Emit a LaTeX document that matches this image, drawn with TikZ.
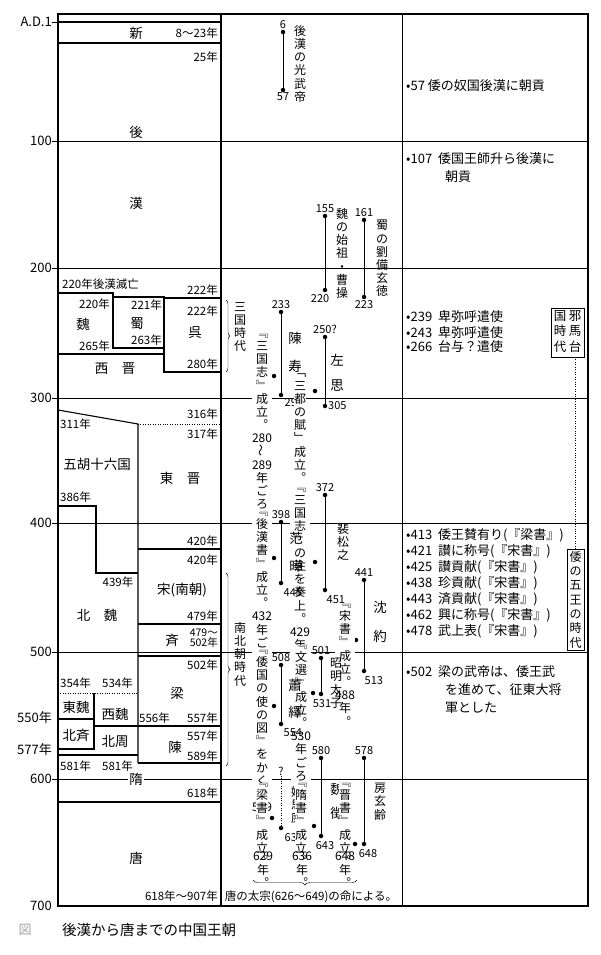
\documentclass[tikz,border=0pt]{standalone}
\usepackage{fontspec}
\setmainfont{Noto Sans CJK JP}
\usetikzlibrary{decorations.pathreplacing,positioning}
\def\V#1{#1\Vx}
\def\Vx#1{\ifx\relax#1\else\\#1\expandafter\Vx\fi}
\newcommand{\wv}{\rotatebox{90}{～}}
\begin{document}
\begin{tikzpicture}[x=1pt,y=-1pt,
  every node/.append style={execute at begin node={\lineskiplimit=-100pt\lineskip=0pt}},
  frame/.style={line width=1.1pt},
  thin/.style={line width=0.45pt},
  dyn/.style={font=\fontsize{13.5}{14}\selectfont,inner sep=0pt},
  yr/.style={font=\fontsize{11.5}{11}\selectfont,inner sep=0pt},
  ax/.style={font=\fontsize{13}{12}\selectfont,anchor=east,inner sep=0pt},
  vt/.style={anchor=north,align=center,inner sep=0pt,font=\fontsize{12}{13.2}\selectfont},
  num/.style={font=\fontsize{11}{11}\selectfont,inner sep=0.5pt},
  ev/.style={anchor=west,inner sep=0pt,font=\fontsize{13}{13}\selectfont},
  life/.style={line width=0.8pt},
  dotm/.style={circle,fill,inner sep=0pt,minimum size=4.5pt}]
\useasboundingbox (0,0) rectangle (600,955);
% century lines
\foreach \y in {141,268,398,523,652,779}{\draw[thin] (52,\y) -- (588,\y);}
% axis labels
\node[ax] (a1) at (52,22) {A.D.1};
\node[ax] (a100) at (52,141) {100};
\node[ax] (a200) at (52,268) {200};
\node[ax] (a300) at (52,398) {300};
\node[ax] (a400) at (52,523) {400};
\node[ax] (a500) at (52,652) {500};
\node[ax] (a550) at (52,718) {550年};
\node[ax] (a577) at (52,750) {577年};
\node[ax] (a600) at (52,779) {600};
\node[ax] (a700) at (52,906) {700};
% outer frame
\draw[frame] (58,14) rectangle (588,906);
\draw[frame] (221,14) -- (221,906);
\draw[thin] (402,14) -- (402,906);
\draw[thin] (52,22) -- (221,22);
\draw[frame] (58,22) -- (221,22);
\draw[frame] (58,43) -- (221,43);
\node[dyn] (xin) at (136,33) {新};
\node[yr,anchor=east] (y823) at (218,33) {8～23年};
\node[yr,anchor=east] (y25) at (218,57) {25年};
\node[dyn] (hou) at (136,132) {後};
\node[dyn] (kan) at (136,203) {漢};
\node[yr,anchor=west] (y220a) at (62,284) {220年後漢滅亡};
% three kingdoms
\draw[frame] (58,293) -- (113,293) -- (113,348) -- (164,348);
\draw[frame] (113,297) -- (164,297) -- (164,372) -- (221,372);
\draw[frame] (164,298) -- (221,298);
\draw[frame] (58,354) -- (164,354);
\node[yr,anchor=east] (y222a) at (218,290) {222年};
\node[yr,anchor=east] (y222b) at (218,311) {222年};
\node[yr,anchor=east] (y220b) at (110,304) {220年};
\node[yr,anchor=east] (y221) at (162,305) {221年};
\node[dyn] (gi) at (83,324) {魏};
\node[dyn] (shoku) at (137,324) {蜀};
\node[dyn] (go) at (195,333) {呉};
\node[yr,anchor=east] (y263) at (162,340) {263年};
\node[yr,anchor=east] (y265) at (110,346) {265年};
\node[yr,anchor=east] (y280) at (218,364) {280年};
\node[dyn] (seishin) at (115,369) {西\quad 晋};
% wu hu
\draw[frame] (58,410) -- (138,424) -- (138,763);
\draw[thin,dotted] (138,424) -- (221,424);
\node[yr,anchor=east] (y316) at (218,414) {316年};
\node[yr,anchor=east] (y317) at (218,434) {317年};
\node[yr,anchor=west] (y311) at (60,424) {311年};
\node[dyn] (goko) at (97,464) {五胡十六国};
\node[dyn] (toshin) at (180,478) {東\quad 晋};
\node[yr,anchor=west] (y386) at (60,497) {386年};
\draw[frame] (58,506) -- (96,506) -- (96,573) -- (138,573);
\node[yr] (y439) at (118,582) {439年};
\node[dyn] (hokugi) at (97,615) {北\quad 魏};
\draw[frame] (138,549) -- (221,549);
\node[yr,anchor=east] (y420a) at (218,541) {420年};
\node[yr,anchor=east] (y420b) at (218,560) {420年};
\node[dyn] (so) at (182,590) {宋(南朝)};
\node[yr,anchor=east] (y479) at (218,616) {479年};
\draw[frame] (138,624) -- (221,624);
\node[dyn] (sei) at (172,640) {斉};
\node[yr,anchor=east,align=right,font=\fontsize{10.5}{10}\selectfont] (y479b) at (218,638) {479～\\502年};
\draw[frame] (138,656) -- (221,656);
\node[yr,anchor=east] (y502) at (218,665) {502年};
\node[dyn] (ryo) at (177,693) {梁};
\node[yr,anchor=west] (y354) at (60,683) {354年};
\node[yr,anchor=west] (y534) at (102,683) {534年};
\draw[thin,dotted] (58,693) -- (138,693);
\draw[frame] (94,693) -- (94,749) -- (58,749);
\draw[frame] (58,719) -- (94,719);
\draw[frame] (94,726) -- (221,726);
\node[dyn] (togi) at (76,707) {東魏};
\node[dyn] (hokusei) at (76,735) {北斉};
\node[dyn] (seigi) at (115,714) {西魏};
\node[dyn] (hokushu) at (115,742) {北周};
\node[yr,anchor=west] (y556) at (139,718) {556年};
\node[yr,anchor=east] (y557a) at (218,718) {557年};
\node[yr,anchor=east] (y557b) at (218,736) {557年};
\node[yr,anchor=east] (y589) at (218,756) {589年};
\node[dyn] (chin) at (175,747) {陳};
\draw[frame] (138,763) -- (221,763);
\draw[frame] (58,755) -- (138,755);
\node[yr,anchor=west] (y581a) at (60,766) {581年};
\node[yr,anchor=west] (y581b) at (102,766) {581年};
\node[dyn,fill=white,inner sep=1pt] (zui) at (136,779) {隋};
\node[yr,anchor=east] (y618) at (218,793) {618年};
\draw[frame] (58,802) -- (221,802);
\node[dyn] (to) at (136,858) {唐};
\node[yr,anchor=east] (y907) at (218,896) {618年～907年};
% caption
\node[font=\fontsize{13}{13}\selectfont,text=gray!70,inner sep=0pt] (zu) at (25,930) {図};
\node[anchor=west,font=\fontsize{14.5}{14}\selectfont,inner sep=0pt] (cap) at (62,930) {後漢から唐までの中国王朝};
% ===== middle column lifelines
\node[dotm] (k1) at (283,32) {}; \node[dotm] (k2) at (283,90) {};
\draw[life] (k1) -- (k2);
\node[num,above=0pt of k1] {6}; \node[num,below=0pt of k2] {57};
\node[vt] at (300,25) {\V 後漢の光武帝\relax};
\node[dotm] (s1) at (325,216) {}; \node[dotm] (s2) at (325,290) {};
\draw[life] (s1) -- (s2);
\node[num,above=0pt of s1] {155}; \node[num,anchor=north east] at (330,294) {220};
\node[vt] at (342,208) {\V 魏の始祖・曹操\relax};
\node[dotm] (r1) at (364,220) {}; \node[dotm] (r2) at (364,297) {};
\draw[life] (r1) -- (r2);
\node[num,above=0pt of r1] {161}; \node[num,below=0pt of r2] {223};
\node[vt] at (382,220) {\V 蜀の劉備玄徳\relax};
\node[dotm] (c1) at (281,312) {}; \node[dotm] (c2) at (281,395) {};
\draw[life] (c1) -- (c2);
\node[num,above=0pt of c1] {233}; \node[num,anchor=west] at (284,403) {297};
\node[dyn] at (295,338) {陳}; \node[dyn] at (295,366) {寿};
\node[dotm] (c3) at (274,376) {};
\node[vt,fill=white] at (262,334) {\V ﹃三国志﹄成立︒{280}\wv{289}年ごろ︒\relax};
\node[dotm] (z1) at (325,337) {}; \node[dotm] (z2) at (325,406) {};
\draw[life] (z1) -- (z2);
\node[num,above=0pt of z1] {250?}; \node[num,right=0pt of z2] {305};
\node[dyn] at (337,360) {左}; \node[dyn] at (337,386) {思};
\node[dotm] (z3) at (315,391) {};
\node[vt,fill=white] at (300,374) {\V ﹁三都の賦﹂成立︒\relax};
\node[dotm] (h1) at (325,495) {}; \node[dotm] (h2) at (325,590) {};
\draw[life] (h1) -- (h2);
\node[num,above=0pt of h1] {372}; \node[num,anchor=north west] at (326,595) {451};
\node[vt] at (343,523) {\V 裴松之\relax};
\node[dotm] (h3) at (315,562) {};
\node[vt,fill=white] at (300,488) {\V ﹃三国志﹄の注を奏上︒{429}年ごろ︒\relax};
\node[dotm] (f1) at (281,522) {}; \node[dotm] (f2) at (281,583) {};
\draw[life] (f1) -- (f2);
\node[num,above=0pt of f1] {398}; \node[num,anchor=north west] at (283,588) {445};
\node[dyn] at (296,538) {范}; \node[dyn] at (296,566) {曄};
\node[dotm] (f3) at (274,558) {};
\node[vt,fill=white] at (262,512) {\V ﹃後漢書﹄成立︒{432}年ごろ︒\relax};
\node[dotm] (sh1) at (364,580) {}; \node[dotm] (sh2) at (364,671) {};
\draw[life] (sh1) -- (sh2);
\node[num,above=0pt of sh1] {441}; \node[num,anchor=north west] at (364,676) {513};
\node[dyn] at (380,607) {沈}; \node[dyn] at (380,636) {約};
\node[dotm] (sh3) at (356,640) {};
\node[vt,fill=white] at (345,604) {\V ﹃宋書﹄成立︒{488}年︒\relax};
\node[dotm] (m1) at (321,658) {}; \node[dotm] (m2) at (321,694) {};
\draw[life] (m1) -- (m2);
\node[num,above=0pt of m1] {501}; \node[num,anchor=north] at (322,699) {531};
\node[vt] at (336,658) {\V 昭明太子\relax};
\node[dotm] (m3) at (313,693) {};
\node[vt,fill=white] at (301,645) {\V ﹃文選﹄成立︒{530}年ごろ︒\relax};
\node[dotm] (sy1) at (281,665) {}; \node[dotm] (sy2) at (281,724) {};
\draw[life] (sy1) -- (sy2);
\node[num,above=0pt of sy1] {508}; \node[num,anchor=north west] at (283,728) {554};
\node[dyn] at (295,685) {蕭}; \node[dyn] at (295,712) {繹};
\node[dotm] (sy3) at (274,706) {};
\node[vt,fill=white] at (262,650) {\V ﹃倭国の使の図﹄をかく︒{539}年ごろ︒\relax};
\node[num] (yq) at (281,771) {?};
\node[dotm] (y2) at (281,828) {};
\draw[thin,dotted] (yq) -- (y2);
\node[num,anchor=north west] at (284,833) {637};
\node[vt] at (297,786) {\V 姚思廉\relax};
\node[dotm] (y3) at (272,818) {};
\node[vt,fill=white] at (262,783) {\V ﹃梁書﹄成立︒\relax};
\node[vt] at (263,852) {\V {629}年︒\relax};
\node[dotm] (w1) at (321,758) {}; \node[dotm] (w2) at (321,836) {};
\draw[life] (w1) -- (w2);
\node[num,above=0pt of w1] {580}; \node[num,anchor=north] at (325,841) {643};
\node[dyn] at (337,789) {魏}; \node[dyn] at (337,813) {徴};
\node[dotm] (w3) at (314,826) {};
\node[vt,fill=white] at (301,783) {\V ﹃隋書﹄成立︒\relax};
\node[vt] at (302,852) {\V {636}年︒\relax};
\node[dotm] (b1) at (364,758) {}; \node[dotm] (b2) at (364,844) {};
\draw[life] (b1) -- (b2);
\node[num,above=0pt of b1] {578}; \node[num,anchor=north] at (368,849) {648};
\node[vt] at (380,783) {\V 房玄齢\relax};
\node[dotm] (b3) at (355,844) {};
\node[vt,fill=white] at (345,783) {\V ﹃晋書﹄成立︒\relax};
\node[vt] at (345,852) {\V {648}年︒\relax};
% braces
\draw[thin,decorate,decoration={brace,amplitude=4pt}] (226,300) -- (226,372);
\node[vt] (sk) at (240,302) {\V 三国時代\relax};
\draw[thin,decorate,decoration={brace,amplitude=4pt}] (226,573) -- (226,766);
\node[vt] (nb) at (240,622) {\V 南北朝時代\relax};
\draw[thin,decorate,decoration={brace,amplitude=5pt}] (357,880) -- (253,880);
\node[font=\fontsize{11.5}{12}\selectfont,inner sep=0pt] (taiso) at (311,897) {唐の太宗(626～649)の命による。};
% ===== right column
\node[ev] (e57) at (406,86) {•57 倭の奴国後漢に朝貢};
\node[ev] (e107) at (406,159) {•107\ \ 倭国王師升ら後漢に};
\node[ev] (e107b) at (445,177) {朝貢};
\node[ev] (e239) at (406,317) {•239\ \ 卑弥呼遣使};
\node[ev] (e243) at (406,333) {•243\ \ 卑弥呼遣使};
\node[ev] (e266) at (406,347) {•266\ \ 台与？遣使};
\draw[thin] (551,308) rectangle (584,357);
\node[vt,font=\fontsize{12.5}{15.5}\selectfont] (yb1) at (575,310) {\V 邪馬台\relax};
\node[vt,font=\fontsize{12.5}{15.5}\selectfont] (yb2) at (560,310) {\V 国時代\relax};
\draw[thin,dotted] (575,357) -- (575,549);
\node[ev] (e413) at (406,535) {•413\ \ 倭王賛有り(『梁書』)};
\node[ev] (e421) at (406,551) {•421\ \ 讃に称号(『宋書』)};
\node[ev] (e425) at (406,567) {•425\ \ 讃貢献(『宋書』)};
\node[ev] (e438) at (406,583) {•438\ \ 珍貢献(『宋書』)};
\node[ev] (e443) at (406,599) {•443\ \ 済貢献(『宋書』)};
\node[ev] (e462) at (406,615) {•462\ \ 興に称号(『宋書』)};
\node[ev] (e478) at (406,631) {•478\ \ 武上表(『宋書』)};
\draw[thin,fill=white] (567,549) rectangle (584,650);
\node[vt,font=\fontsize{12}{14.3}\selectfont] (wg) at (575.5,551) {\V 倭の五王の時代\relax};
\node[ev] (e502) at (406,672) {•502\ \ 梁の武帝は、倭王武};
\node[ev] (e502b) at (445,690) {を進めて、征東大将};
\node[ev] (e502c) at (445,708) {軍とした};
\end{tikzpicture}
\end{document}
